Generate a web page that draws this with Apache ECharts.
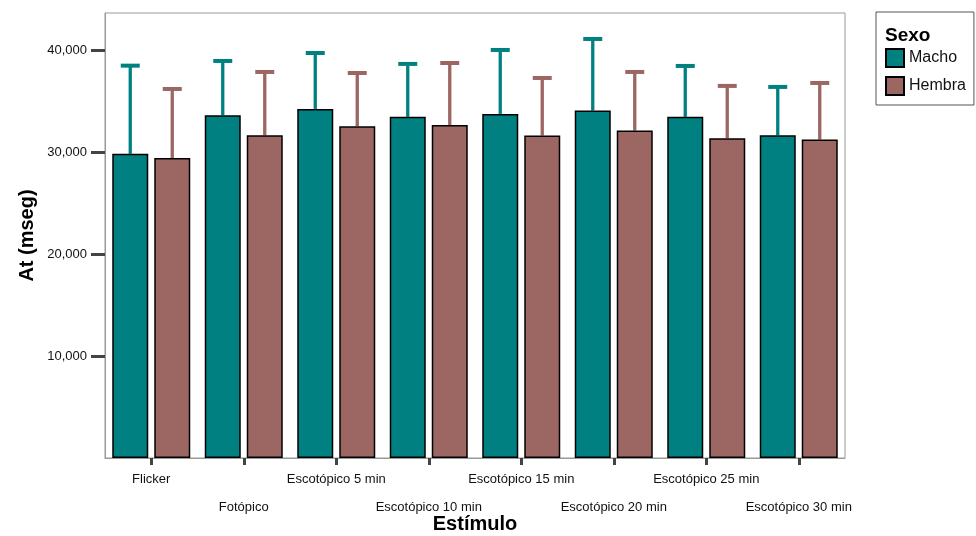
<!DOCTYPE html>
<html><head><meta charset="utf-8">
<script src="https://cdn.jsdelivr.net/npm/echarts@6/dist/echarts.min.js"></script>
<style>html,body{margin:0;padding:0;background:#fff}#c{width:976px;height:536px}</style>
</head><body><div id="c"></div>
<script>
const categories = ['Flicker','Fotópico','Escotópico 5 min','Escotópico 10 min','Escotópico 15 min','Escotópico 20 min','Escotópico 25 min','Escotópico 30 min'];
const machoMean = [29870, 33670, 34280, 33500, 33790, 34120, 33500, 31700];
const machoUpper = [38530, 38990, 39770, 38700, 40070, 41150, 38500, 36440];
const hembraMean = [29450, 31700, 32590, 32710, 31670, 32160, 31410, 31270];
const hembraUpper = [36240, 37910, 37810, 38790, 37320, 37910, 36540, 36830];
const yTicks = [10000, 20000, 30000, 40000];

const TEAL = '#008080', BROWN = '#9c6663';
const FONT = 'Liberation Sans, Arial, sans-serif';
const BAR_W = 36, BAR_GAP = 6;

function errSeries(name, mean, upper, color, offset) {
  return {
    type: 'custom', name: name + '_err', z: 1, silent: true,
    data: mean.map((m, i) => [i, m, upper[i]]),
    encode: { x: 0, y: [1, 2] },
    renderItem: function (params, api) {
      const b = api.coord([api.value(0), api.value(1)]);
      const t = api.coord([api.value(0), api.value(2)]);
      const x = b[0] + offset;
      return { type: 'group', children: [
        { type: 'line', shape: { x1: x, y1: b[1], x2: x, y2: t[1] }, style: { stroke: color, lineWidth: 3.3 } },
        { type: 'line', shape: { x1: x - 9.5, y1: t[1], x2: x + 9.5, y2: t[1] }, style: { stroke: color, lineWidth: 4 } }
      ]};
    }
  };
}

const chart = echarts.init(document.getElementById('c'), null, { renderer: 'canvas' });
chart.setOption({
  animation: false,
  textStyle: { fontFamily: FONT },
  grid: { left: 105, right: 131, top: 13, bottom: 78, show: true, borderColor: '#999', borderWidth: 1, backgroundColor: '#fff',
    containLabel: false, outerBoundsMode: 'none' },
  legend: {
    orient: 'vertical', left: 876, top: 12,
    padding: [36, 8, 9, 9], itemGap: 8, itemWidth: 18, itemHeight: 18,
    borderColor: '#555', borderWidth: 1,
    data: [{ name: 'Macho', icon: 'rect' }, { name: 'Hembra', icon: 'rect' }],
    textStyle: { fontSize: 16, color: '#111', fontFamily: FONT }
  },
  graphic: [{ type: 'text', left: 885, top: 26, style: { text: 'Sexo', fill: '#000', font: 'bold 19px ' + FONT } }],
  xAxis: {
    type: 'category', data: categories,
    name: 'Estímulo', nameLocation: 'middle', nameGap: 56, nameMoveOverlap: false,
    nameTextStyle: { fontSize: 20, fontWeight: 'bold', color: '#000', fontFamily: FONT },
    axisLine: { show: true, lineStyle: { color: '#999', width: 1 } },
    axisTick: { show: true, alignWithLabel: true, length: 7, lineStyle: { color: '#444', width: 3 } },
    axisLabel: { interval: 0, margin: 7, fontSize: 13, color: '#111', lineHeight: 28,
      formatter: (v, i) => (i % 2 ? '\n' + v : v) }
  },
  yAxis: {
    type: 'value', min: 0, max: 43700, interval: 10000,
    name: 'At (mseg)', nameLocation: 'middle', nameGap: 68, nameMoveOverlap: false,
    nameTextStyle: { fontSize: 20, fontWeight: 'bold', color: '#000', fontFamily: FONT },
    splitLine: { show: false },
    axisLine: { show: true, lineStyle: { color: '#999', width: 1 } },
    axisTick: { show: true, length: 14, lineStyle: { color: '#444', width: 3 }, customValues: yTicks },
    axisLabel: { fontSize: 13, color: '#111', margin: 18, customValues: yTicks,
      formatter: v => v.toLocaleString('en-US') }
  },
  series: [
    errSeries('Macho', machoMean, machoUpper, TEAL, -(BAR_W + BAR_GAP) / 2),
    errSeries('Hembra', hembraMean, hembraUpper, BROWN, (BAR_W + BAR_GAP) / 2),
    { type: 'bar', name: 'Macho', z: 2, data: machoMean, barWidth: BAR_W, barGap: (BAR_GAP / BAR_W * 100) + '%',
      itemStyle: { color: TEAL, borderColor: '#000', borderWidth: 1.5 } },
    { type: 'bar', name: 'Hembra', z: 2, data: hembraMean, barWidth: BAR_W, barGap: (BAR_GAP / BAR_W * 100) + '%',
      itemStyle: { color: BROWN, borderColor: '#000', borderWidth: 1.5 } }
  ]
});
</script></body></html>
